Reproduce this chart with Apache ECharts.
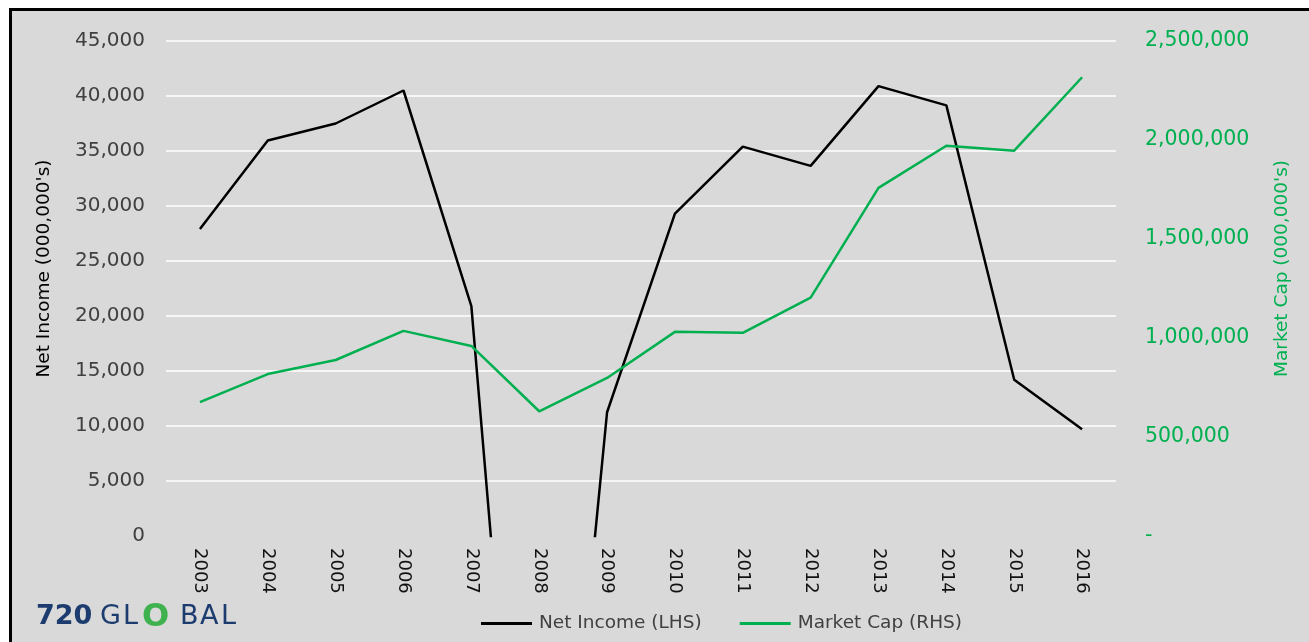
<!DOCTYPE html>
<html>
<head>
<meta charset="utf-8">
<title>Net Income vs Market Cap</title>
<script src="https://cdn.jsdelivr.net/npm/echarts@6/dist/echarts.min.js"></script>
<style>
  html, body { margin: 0; padding: 0; background: #fff; overflow: hidden; }
  #chart {
    position: absolute;
    left: 9px;
    top: 8px;
    width: 1300px;
    height: 634px;
    border-left: 3px solid #000;
    border-top: 3px solid #000;
    background: #d9d9d9;
  }
</style>
</head>
<body>
<div id="chart"></div>
<script>
// years on the x axis
const years = ["2003", "2004", "2005", "2006", "2007", "2008", "2009",
  "2010", "2011", "2012", "2013", "2014", "2015", "2016"];

// Net Income (000,000's), left axis -- 2008 dips below 0 and is clipped
const netIncome = [27900, 35950, 37500, 40500, 20900, -52000, 11250,
  29300, 35400, 33650, 40900, 39150, 14200, 9700];

// Market Cap (000,000's), right axis
const marketCap = [676000, 818000, 889000, 1036000, 960000, 630000, 798000,
  1031000, 1026000, 1204000, 1758000, 1971000, 1946000, 2317000];

const green = "#00b050";
const navy = "#1c3b6e";
const fmt = (v) => v.toLocaleString("en-US");

// logo pieces, drawn as separate texts to get the wide letter spacing
const logo = [
  { t: "720", x: 24, y: 592, size: 27, bold: true, c: navy },
  { t: "G", x: 88, y: 592, size: 27, c: navy },
  { t: "L", x: 111, y: 592, size: 27, c: navy },
  { t: "O", x: 130, y: 591, size: 32, bold: true, c: "#3fb24f" },
  { t: "B", x: 168, y: 592, size: 27, c: navy },
  { t: "A", x: 188, y: 592, size: 27, c: navy },
  { t: "L", x: 209, y: 592, size: 27, c: navy },
];

const chart = echarts.init(document.getElementById("chart"));

chart.setOption({
  animation: false,
  textStyle: { fontFamily: "DejaVu Sans" },
  grid: { left: 154, right: 196, top: 30, bottom: 109 },
  legend: {
    left: 464,
    top: 598,
    icon: "rect",
    itemWidth: 51,
    itemHeight: 3,
    itemGap: 38,
    textStyle: { fontSize: 18.5, color: "#404040", padding: [0, 0, 0, 2] },
    data: ["Net Income (LHS)", "Market Cap (RHS)"],
  },
  xAxis: {
    type: "category",
    data: years,
    boundaryGap: true,
    axisLine: { show: false },
    axisTick: { show: false },
    axisLabel: { rotate: -90, margin: 12, fontSize: 18, color: "#111" },
  },
  yAxis: [
    {
      type: "value",
      min: 0,
      max: 45000,
      interval: 5000,
      name: "Net Income (000,000's)",
      nameLocation: "middle",
      nameRotate: 90,
      nameGap: 112,
      nameTextStyle: { fontSize: 18.5, color: "#000", padding: [0, 0, 0, 40] },
      axisLine: { show: false },
      axisTick: { show: false },
      axisLabel: { fontSize: 20, color: "#404040", margin: 21, formatter: fmt },
      splitLine: { showMinLine: false, lineStyle: { color: "#fff", width: 1.5 } },
    },
    {
      type: "value",
      min: 0,
      max: 2500000,
      interval: 500000,
      position: "right",
      name: "Market Cap (000,000's)",
      nameLocation: "middle",
      nameRotate: 90,
      nameGap: 157,
      nameTextStyle: { fontSize: 18.5, color: green, padding: [0, 0, 0, 40] },
      axisLine: { show: false },
      axisTick: { show: false },
      axisLabel: {
        fontSize: 20.5,
        color: green,
        margin: 29,
        formatter: (v) => (v === 0 ? "-" : fmt(v)),
      },
      splitLine: { show: false },
    },
  ],
  series: [
    {
      name: "Net Income (LHS)",
      type: "line",
      yAxisIndex: 0,
      data: netIncome,
      symbol: "none",
      clip: true,
      lineStyle: { color: "#000", width: 2.5 },
      itemStyle: { color: "#000" },
    },
    {
      name: "Market Cap (RHS)",
      type: "line",
      yAxisIndex: 1,
      data: marketCap,
      symbol: "none",
      lineStyle: { color: green, width: 2.5 },
      itemStyle: { color: green },
    },
  ],
  graphic: logo.map((p) => ({
    type: "text",
    left: p.x,
    top: p.y,
    style: {
      text: p.t,
      fontSize: p.size,
      fontWeight: p.bold ? "bold" : "normal",
      fill: p.c,
      fontFamily: "DejaVu Sans",
    },
  })),
});
</script>
</body>
</html>
